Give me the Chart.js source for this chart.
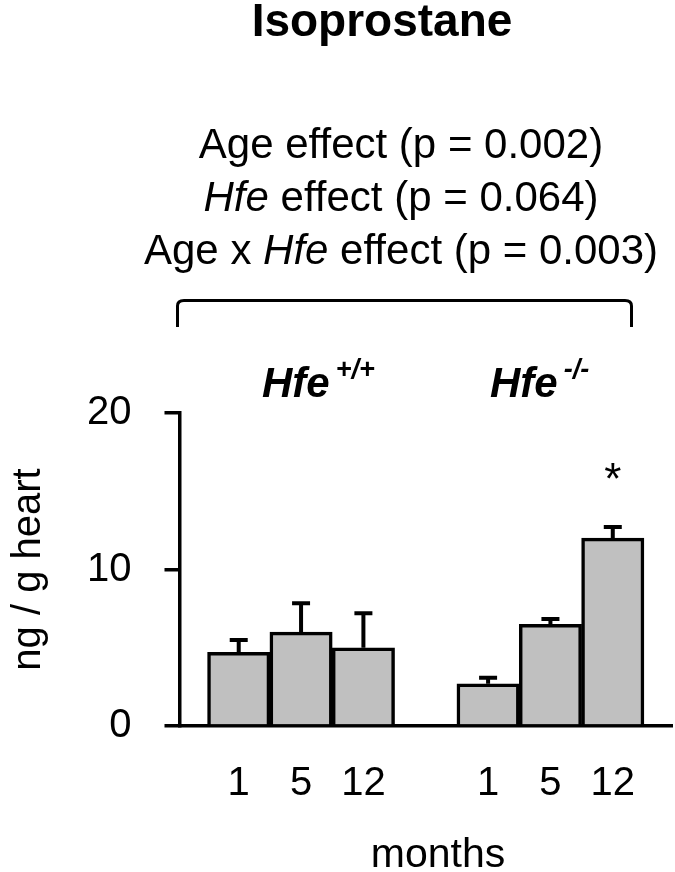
<!DOCTYPE html>
<html>
<head>
<meta charset="utf-8">
<script src="https://cdn.jsdelivr.net/npm/chart.js@4"></script>
<style>
  html, body { margin: 0; padding: 0; background: #fff; }
  #wrap { width: 675px; height: 872px; }
</style>
</head>
<body>
<div id="wrap"><canvas id="myChart" width="675" height="872"></canvas></div>
<script>
// Подписи месяцев под столбцами
const monthLabels = ["1", "5", "12", "1", "5", "12"];
// Позиции столбцов на оси x (слот 4 пустой - промежуток между генотипами)
const barSlots = [1, 2, 3, 5, 6, 7];
// Значения, ng / g heart
const isoValues = [4.7, 6.0, 5.0, 2.7, 6.5, 12.0];
const isoErrors = [0.8, 1.85, 2.2, 0.38, 0.33, 0.72];
const sigMarks = ["", "", "", "", "", "*"];
const yTicks = [0, 10, 20];

const chartTitle = "Isoprostane";
// строки с p-значениями, i = курсив
const effectLines = [
    [{t: "Age effect (p = 0.002)"}],
    [{t: "Hfe", i: true}, {t: " effect (p = 0.064)"}],
    [{t: "Age x "}, {t: "Hfe", i: true}, {t: " effect (p = 0.003)"}]
];
const groupLabels = [
    {name: "Hfe", sup: "+/+", x: 262},
    {name: "Hfe", sup: "-/-", x: 490}
];

const FONT = "'Liberation Sans', Arial, sans-serif";
Chart.defaults.font.family = FONT;
Chart.defaults.color = "#000";

// Планки погрешностей и звездочки
const errorBars = {
    id: "errorBars",
    afterDatasetsDraw(chart) {
        const ctx = chart.ctx;
        const xs = chart.scales.x, ys = chart.scales.y;
        ctx.save();
        ctx.strokeStyle = "#000";
        ctx.lineWidth = 4;
        ctx.lineCap = "butt";
        for (let i = 0; i < isoValues.length; i++) {
            const x = xs.getPixelForValue(barSlots[i]);
            const y0 = ys.getPixelForValue(isoValues[i]);
            const y1 = ys.getPixelForValue(isoValues[i] + isoErrors[i]);
            ctx.beginPath();
            ctx.moveTo(x, y0);
            ctx.lineTo(x, y1);
            ctx.moveTo(x - 9, y1);
            ctx.lineTo(x + 9, y1);
            ctx.stroke();
            if (sigMarks[i]) {
                ctx.fillStyle = "#000";
                ctx.font = "44px " + FONT;
                ctx.textAlign = "center";
                ctx.textBaseline = "alphabetic";
                ctx.fillText(sigMarks[i], x, y1 - 33);
            }
        }
        ctx.restore();
    }
};

function drawSegments(ctx, segs, cx, y, size) {
    let total = 0;
    segs.forEach(s => {
        ctx.font = (s.i ? "italic " : "") + size + "px " + FONT;
        s.w = ctx.measureText(s.t).width;
        total += s.w;
    });
    let x = cx - total / 2;
    ctx.textAlign = "left";
    segs.forEach(s => {
        ctx.font = (s.i ? "italic " : "") + size + "px " + FONT;
        ctx.fillText(s.t, x, y);
        x += s.w;
    });
}

// Заголовок, p-значения, скобка и подписи групп
const decor = {
    id: "decor",
    afterDraw(chart) {
        const ctx = chart.ctx;
        ctx.save();
        ctx.fillStyle = "#000";
        ctx.textBaseline = "alphabetic";
        ctx.textAlign = "center";
        ctx.font = "bold 46px " + FONT;
        ctx.fillText(chartTitle, 382, 36);

        effectLines.forEach((segs, k) => drawSegments(ctx, segs, 401, 158 + k * 53, 42));

        // скобка
        ctx.strokeStyle = "#000";
        ctx.lineWidth = 3;
        ctx.beginPath();
        ctx.moveTo(177.5, 327);
        ctx.lineTo(177.5, 306);
        ctx.quadraticCurveTo(177.5, 300.5, 184, 300.5);
        ctx.lineTo(625, 300.5);
        ctx.quadraticCurveTo(631.5, 300.5, 631.5, 306);
        ctx.lineTo(631.5, 327);
        ctx.stroke();

        groupLabels.forEach(g => {
            ctx.textAlign = "left";
            ctx.font = "italic bold 42px " + FONT;
            ctx.fillText(g.name, g.x, 397);
            const w = ctx.measureText(g.name).width;
            ctx.font = "italic bold 27px " + FONT;
            ctx.fillText(g.sup, g.x + w + 6, 378);
        });

        // подпись оси x
        ctx.textAlign = "center";
        ctx.font = "41px " + FONT;
        ctx.fillText("months", 438, 867);
        ctx.restore();
    }
};

const ctx = document.getElementById("myChart").getContext("2d");
const chart = new Chart(ctx, {
    type: "bar",
    data: {
        datasets: [{
            data: barSlots.map((s, i) => ({x: s, y: isoValues[i]})),
            backgroundColor: "#c0c0c0",
            borderColor: "#000",
            borderWidth: 3.5,
            borderSkipped: "bottom",
            barPercentage: 1,
            categoryPercentage: 1
        }]
    },
    options: {
        responsive: false,
        animation: false,
        events: [],
        layout: {
            padding: {top: 413, right: 3, left: 0, bottom: 30}
        },
        plugins: {
            legend: {display: false},
            tooltip: {enabled: false},
            title: {display: false}
        },
        scales: {
            x: {
                type: "linear",
                offset: false,
                min: 0.05,
                max: 7.95,
                grid: {display: false, drawTicks: false},
                border: {display: true, color: "#000", width: 3.5},
                afterBuildTicks: (scale) => {
                    scale.ticks = barSlots.map(v => ({value: v}));
                },
                ticks: {
                    autoSkip: false,
                    maxRotation: 0,
                    padding: 34,
                    font: {size: 40},
                    callback: (v) => monthLabels[barSlots.indexOf(v)]
                }
            },
            y: {
                min: 0,
                max: 20,
                afterBuildTicks: (scale) => {
                    scale.ticks = yTicks.map(v => ({value: v}));
                },
                grid: {
                    drawOnChartArea: false,
                    drawTicks: true,
                    tickLength: 15,
                    color: "#000",
                    lineWidth: 3.5
                },
                border: {display: true, color: "#000", width: 3.5},
                ticks: {
                    padding: 33,
                    font: {size: 40}
                },
                title: {
                    display: true,
                    text: "ng / g heart",
                    font: {size: 40, lineHeight: 1},
                    padding: {top: 9, bottom: 5}
                }
            }
        }
    },
    plugins: [errorBars, decor]
});
</script>
</body>
</html>
